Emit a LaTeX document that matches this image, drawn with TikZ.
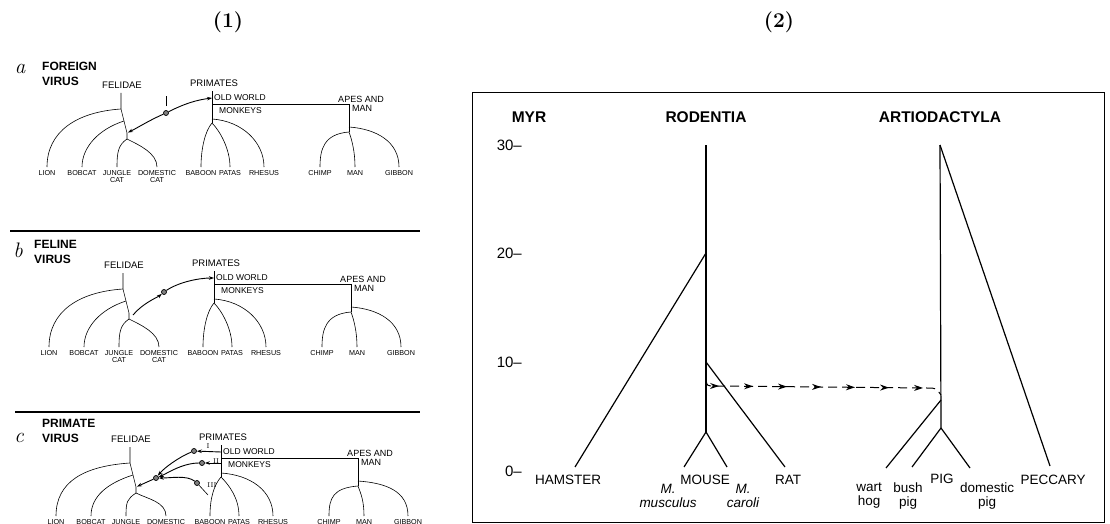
\documentclass[tikz,border=0pt]{standalone}
\usepackage{fontspec}
\setsansfont{Liberation Sans}
\usetikzlibrary{arrows.meta,decorations.markings}

\begin{document}
\begin{tikzpicture}[x=1pt, y=-1pt,
  grp/.style={font=\sffamily\fontsize{9.5}{10}\selectfont, inner sep=1pt},
  sub/.style={font=\sffamily\fontsize{8.5}{9}\selectfont, inner sep=1pt, anchor=west},
  leaf/.style={font=\sffamily\fontsize{7.2}{7.4}\selectfont, align=center, anchor=north, inner sep=3pt},
  ptitle/.style={font=\sffamily\bfseries\fontsize{12}{15}\selectfont, align=left, anchor=west, inner sep=0pt},
  ptag/.style={font=\itshape\fontsize{21}{21}\selectfont, inner sep=0pt},
  branch/.style={line width=0.6pt},
  virarr/.style={line width=0.9pt, -{Stealth[length=5pt,width=3.5pt]}},
  virdot/.style={circle, draw, line width=0.7pt, fill=black!50, minimum size=5pt, inner sep=0pt},
  numr/.style={font=\fontsize{7}{7}\selectfont, inner sep=0.5pt},
  sepline/.style={line width=1.1pt},
  frame/.style={line width=0.9pt},
  hdr/.style={font=\sffamily\bfseries\fontsize{15.5}{16}\selectfont},
  tickl/.style={font=\sffamily\fontsize{15}{16}\selectfont, anchor=east, inner sep=0pt},
  taxon/.style={font=\sffamily\fontsize{13.5}{14}\selectfont, align=center, inner sep=0pt},
  spec/.style={font=\sffamily\itshape\fontsize{13.5}{14}\selectfont, align=center, inner sep=0pt},
  tree/.style={line width=1.2pt},
  flow/.style={line width=1pt, dash pattern=on 9pt off 5pt,
    postaction={decorate},
    decoration={markings, mark=between positions 17pt and 225pt step 34pt with {\arrow{Stealth[length=9pt,width=6pt]}}}},
  ttl/.style={font=\bfseries\fontsize{21}{24}\selectfont}
]
\useasboundingbox (0,0) rectangle (1110,524);

\node[ttl] (ttl1) at (228,22) {(1)};
\node[ttl] (ttl2) at (779,22) {(2)};

% panel (1): the same cat / primate tree three times
\foreach \pn/\dx/\dy/\ly in {a/0/0/167, b/2/180/167, c/9/354/162} {
\begin{scope}[shift={(\dx,\dy)}, name prefix=\pn-]
  \node[grp] (fel) at (122,85) {FELIDAE};
  \node[grp] (pri) at (214,83) {PRIMATES};
  \node[sub] (owm) at (213,98) {OLD WORLD};
  \node[sub] (mon) at (218,111) {MONKEYS};
  \node[grp, font=\sffamily\fontsize{9}{9}\selectfont] (apes) at (361,99) {APES AND};
  \node[sub, font=\sffamily\fontsize{9}{9}\selectfont] (apman) at (351,108) {MAN};

  \coordinate (f0) at (121,93);
  \coordinate (f1) at (121,109);
  \coordinate (f2) at (124,121);
  \coordinate (f3) at (127,133);
  \coordinate (fx) at (131,135);
  \coordinate (f4) at (127,139);
  \coordinate (p0) at (212,91);
  \coordinate (pv) at (212,98);
  \coordinate (p1) at (212,104);
  \coordinate (pw) at (212,109);
  \coordinate (p2) at (212,119);
  \coordinate (p3) at (212,123);
  \coordinate (q1) at (349,104);
  \coordinate (q2) at (349,127);
  \coordinate (q3) at (349,132);

  \node[leaf] (lion) at (47,\ly)  {LION};
  \node[leaf] (bob)  at (82,\ly)  {BOBCAT};
  \node[leaf] (jun)  at (117,\ly) {JUNGLE\\CAT};
  \node[leaf] (dom)  at (157,\ly) {DOMESTIC\\CAT};
  \node[leaf] (bab)  at (201,\ly) {BABOON};
  \node[leaf] (pat)  at (230,\ly) {PATAS};
  \node[leaf] (rhe)  at (264,\ly) {RHESUS};
  \node[leaf] (chi)  at (320,\ly) {CHIMP};
  \node[leaf] (man)  at (355,\ly) {MAN};
  \node[leaf] (gib)  at (399,\ly) {GIBBON};

  \draw[branch] (f0) -- (f1) -- (f3) -- (f4);
  \draw[branch] (f1) .. controls +(-45,3) and +(0,-35) .. (lion.north);
  \draw[branch] (f2) .. controls +(-25,8) and +(0,-20) .. (bob.north);
  \draw[branch] (f4) .. controls +(-9,6) and +(0,-14) .. (jun.north);
  \draw[branch] (f4) .. controls +(12,6) and +(0,-14) .. (dom.north);
  \draw[branch] (p0) -- (p3);
  \draw[branch] (p1) -- (q1) -- (q3);
  \draw[branch] (p3) .. controls +(-7,8) and +(0,-18) .. (bab.north);
  \draw[branch] (p3) .. controls +(8,8) and +(0,-18) .. (pat.north);
  \draw[branch] (p2) .. controls +(30,2) and +(0,-25) .. (rhe.north);
  \draw[branch] (q2) .. controls +(28,2) and +(0,-25) .. (gib.north);
  \draw[branch] (q3) .. controls +(-25,2) and +(0,-18) .. (chi.north);
  \draw[branch] (q3) .. controls +(3,8) and +(0,-15) .. (man.north);
\end{scope}
}

% panel titles
\node[ptag] (a-tag) at (20,69) {a};
\node[ptitle] (a-ttl) at (42,74) {FOREIGN\\VIRUS};
\node[ptag] (b-tag) at (18,250) {b};
\node[ptitle] (b-ttl) at (34,252) {FELINE\\VIRUS};
\node[ptag] (c-tag) at (19,438) {c};
\node[ptitle] (c-ttl) at (42,431) {PRIMATE\\VIRUS};

\draw[sepline] (10,231) -- (420,231);
\draw[sepline] (15,412) -- (420,412);

% a: foreign virus
\node[virdot] (a-v) at (166,113) {};
\draw[branch] ([yshift=4pt]a-v.north) -- ++(0,-10);
\draw[virarr] (a-v) .. controls +(20,-10) and +(-15,2) .. (a-pv);
\draw[virarr, shorten >=1pt] (a-v) .. controls +(-18,8) and +(12,-6) .. (a-f3);

% b: feline virus
\node[virdot] (b-v) at (164,292) {};
\draw[virarr] (b-fx) .. controls +(10,-12) and +(-6,5) .. (b-v);
\draw[virarr] (b-v) .. controls +(15,-10) and +(-15,0) .. (b-pv);

% c: primate virus
\node[virdot] (c-vI) at (194,451) {};
\node[virdot] (c-vII) at (202,463) {};
\node[virdot] (c-vIII) at (197,483) {};
\node[virdot] (c-vm) at (156,478) {};
\coordinate (c-tl) at (208,495);
\node[numr] (c-nI) at (208,446) {I};
\node[numr] (c-nII) at (216,461) {II};
\node[numr] (c-nIII) at (212,485) {III};
\draw[virarr] (c-pv) -- (c-vI);
\draw[virarr] (c-pw) -- (c-vII);
\draw[branch] (c-tl) -- (c-vIII);
\draw[virarr] (c-vI) .. controls +(-15,6) and +(8,-10) .. (c-vm);
\draw[virarr] (c-vII) .. controls +(-20,0) and +(10,-4) .. (c-vm);
\draw[virarr] (c-vIII) .. controls +(-10,-8) and +(15,0) .. (c-vm);
\draw[virarr, shorten >=1pt] (c-vm) -- (c-f3);

% panel (2): rodentia and artiodactyla
\draw[frame] (472,92) rectangle (1104,522);
\node[hdr] (myr) at (529,117) {MYR};
\node[hdr] (rod) at (706,117) {RODENTIA};
\node[hdr] (art) at (940,117) {ARTIODACTYLA};
\foreach \v/\yy in {30/145, 20/253, 10/362, 0/471}
  \node[tickl] (tk\v) at (522,\yy) {\v–};

\coordinate (rtop) at (706,145);
\coordinate (r20) at (706,253);
\coordinate (r10) at (706,362);
\coordinate (rm) at (706,432);
\coordinate (hamE) at (575,467);
\coordinate (musE) at (684,467);
\coordinate (carE) at (727,467);
\coordinate (ratE) at (785,467);
\coordinate (atop) at (940,145);
\coordinate (aw) at (941,400);
\coordinate (ap) at (941,428);
\coordinate (wartE) at (886,468);
\coordinate (bushE) at (912,467);
\coordinate (domE) at (970,468);
\coordinate (pecE) at (1050,466);
\coordinate (hs) at (706,380);
\coordinate (he) at (941,395);

\draw[tree] (rtop) -- (rm);
\draw[tree] (r20) -- (hamE);
\draw[tree] (r10) -- (ratE);
\draw[tree] (rm) -- (musE);
\draw[tree] (rm) -- (carE);
\draw[tree] (atop) -- (ap);
\draw[tree] (aw) -- (wartE);
\draw[tree] (ap) -- (bushE);
\draw[tree] (ap) -- (domE);
\draw[tree] (atop) -- (pecE);
\draw[flow] (hs) .. controls (707,386) .. (715,386) -- (927,388) .. controls (936,388) .. (he);

\node[taxon] (ham) at (568,480) {HAMSTER};
\node[taxon] (mou) at (705,480) {MOUSE};
\node[spec] (mmus) at (668,496) {M.\\musculus};
\node[spec] (mcar) at (743,496) {M.\\caroli};
\node[taxon] (rat) at (788,480) {RAT};
\node[taxon] (wart) at (869,496) {wart\\hog};
\node[taxon] (bush) at (908,496) {bush\\pig};
\node[taxon] (pig) at (942,479) {PIG};
\node[taxon] (dpig) at (987,496) {domestic\\pig};
\node[taxon] (pec) at (1053,480) {PECCARY};
\end{tikzpicture}
\end{document}
